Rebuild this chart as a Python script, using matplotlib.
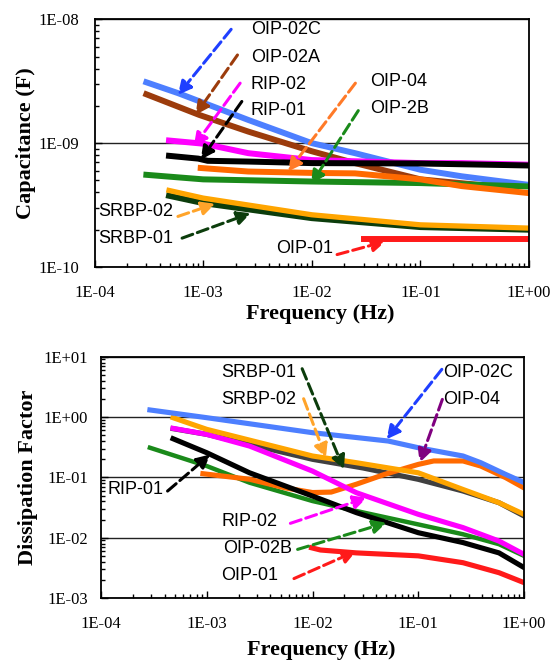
import numpy as np
import matplotlib.pyplot as plt
from matplotlib.ticker import LogLocator, FuncFormatter, NullFormatter

# ---- capacitance (F) vs frequency (Hz) ----
f_oip02c = [3e-4, 5.9e-4, 2.6e-3, 1e-2, 2.5e-2, 0.1, 0.24, 1.0]
c_oip02c = [3.1e-9, 2.53e-9, 1.54e-9, 1.0e-9, 8.3e-10, 6.1e-10, 5.4e-10, 4.6e-10]
f_oip02a = [3e-4, 9.2e-4, 2.6e-3, 1e-2, 2.5e-2, 0.1, 0.6]
c_oip02a = [2.48e-9, 1.69e-9, 1.24e-9, 8.6e-10, 6.9e-10, 5.1e-10, 4.4e-10]
f_rip02 = [4.85e-4, 1e-3, 2.6e-3, 1e-2, 0.1, 0.24, 1.0]
c_rip02 = [1.05e-9, 9.9e-10, 8.3e-10, 7.3e-10, 6.9e-10, 6.9e-10, 6.7e-10]
f_rip01 = [4.85e-4, 9e-4, 1.1e-3, 2.6e-3, 1e-2, 0.1, 1.0]
c_rip01 = [7.9e-10, 7.5e-10, 7.2e-10, 7.1e-10, 6.9e-10, 6.85e-10, 6.6e-10]
f_oip04 = [9.5e-4, 2.6e-3, 1e-2, 2.5e-2, 0.1, 0.24, 1.0]
c_oip04 = [6.3e-10, 5.9e-10, 5.75e-10, 5.7e-10, 5.1e-10, 4.5e-10, 3.95e-10]
f_oip2b = [3e-4, 1e-3, 1e-2, 0.1, 1.0]
c_oip2b = [5.55e-10, 5.1e-10, 4.9e-10, 4.76e-10, 4.47e-10]
f_srbp02 = [4.85e-4, 1e-3, 1e-2, 0.1, 1.0]
c_srbp02 = [4.15e-10, 3.6e-10, 2.64e-10, 2.19e-10, 2.06e-10]
f_srbp01 = [4.85e-4, 1e-3, 1e-2, 0.1, 1.0]
c_srbp01 = [3.76e-10, 3.28e-10, 2.48e-10, 2.1e-10, 2.0e-10]
f_oip01 = [0.0305, 1.0]
c_oip01 = [1.68e-10, 1.68e-10]

# ---- dissipation factor vs frequency ----
g_oip02c = [2.9e-4, 1e-3, 1e-2, 5.2e-2, 0.1, 0.265, 0.39, 0.67, 1.0]
d_oip02c = [1.31, 0.975, 0.55, 0.40, 0.31, 0.226, 0.175, 0.112, 0.082]
g_oip04 = [9.2e-4, 2.54e-3, 5.5e-3, 1e-2, 1.5e-2, 2.6e-2, 4.8e-2, 0.1, 0.14, 0.265, 0.39, 0.67, 1.0]
d_oip04 = [0.115, 0.093, 0.067, 0.056, 0.057, 0.077, 0.112, 0.164, 0.187, 0.187, 0.154, 0.099, 0.067]
g_srbp02 = [4.8e-4, 1e-3, 1e-2, 2.6e-2, 0.1, 0.265, 0.58, 1.0]
d_srbp02 = [0.975, 0.625, 0.226, 0.175, 0.119, 0.063, 0.038, 0.0244]
g_srbp01 = [4.8e-4, 1e-3, 2.54e-3, 1e-2, 3e-2, 0.1, 0.265, 0.58, 1.0]
d_srbp01 = [0.641, 0.516, 0.352, 0.199, 0.143, 0.0927, 0.0593, 0.038, 0.0229]
g_rip02 = [4.8e-4, 1e-3, 2.54e-3, 1e-2, 2.6e-2, 0.1, 0.265, 0.58, 1.0]
d_rip02 = [0.649, 0.516, 0.33, 0.127, 0.0557, 0.0244, 0.0147, 0.0088, 0.0053]
g_rip01 = [4.8e-4, 1e-3, 2.54e-3, 1e-2, 2.6e-2, 0.1, 0.265, 0.58, 1.0]
d_rip01 = [0.437, 0.256, 0.119, 0.049, 0.026, 0.0121, 0.0083, 0.0056, 0.0032]
g_oip02b = [2.9e-4, 1e-3, 2.54e-3, 1e-2, 2.6e-2, 0.1, 0.265, 0.58, 1.0]
d_oip02b = [0.31, 0.154, 0.0816, 0.0405, 0.0277, 0.0166, 0.0114, 0.0078, 0.005]
g_oip01 = [9.8e-3, 1.19e-2, 2.6e-2, 0.1, 0.265, 0.58, 1.0]
d_oip01 = [0.0068, 0.00625, 0.0056, 0.005, 0.00385, 0.00263, 0.0018]

xticks = [1e-4, 1e-3, 1e-2, 1e-1, 1e0]

# colours
BLUE, BLUE_A = '#4d7fff', '#1f3fff'
BROWN = '#9c3c0c'
MAG = '#ff00ff'
ORANGE, ORANGE_A = '#ff6a00', '#ff7a28'
GREEN = '#1a8a1a'
AMBER, AMBER_A = '#ffa500', '#ffa42a'
DKGREEN = '#0c3d0c'
GRAY = '#404040'
RED = '#ff1a1a'
PURPLE = '#800080'

plt.rcParams['font.family'] = 'Liberation Serif'
fig = plt.figure(figsize=(5.58, 6.63), dpi=100)
ax1 = fig.add_axes([0.1694, 0.5973, 0.7787, 0.3736])
ax2 = fig.add_axes([0.1810, 0.0980, 0.7581, 0.3640])

sans = 'Liberation Sans'


def arrow(ax, tail, head, col):
    ax.annotate('', xy=head, xytext=tail,
                arrowprops=dict(arrowstyle='-|>', color=col, lw=2.2, linestyle='--',
                                mutation_scale=20, shrinkA=0, shrinkB=0))


def style(ax, ylo, yhi, ylab, ypad, xpad):
    ax.set_xscale('log')
    ax.set_yscale('log')
    ax.set_xlim(1e-4, 1)
    ax.set_ylim(ylo, yhi)
    ax.set_xticks(xticks)
    fmt = FuncFormatter(lambda v, p: '1E%+03d' % int(round(np.log10(v))))
    ax.xaxis.set_major_formatter(fmt)
    ax.yaxis.set_major_locator(LogLocator(base=10, numticks=10))
    ax.yaxis.set_major_formatter(fmt)
    ax.xaxis.set_minor_locator(LogLocator(base=10, subs=np.arange(2, 10), numticks=20))
    ax.yaxis.set_minor_locator(LogLocator(base=10, subs=np.arange(2, 10), numticks=20))
    ax.xaxis.set_minor_formatter(NullFormatter())
    ax.yaxis.set_minor_formatter(NullFormatter())
    ax.tick_params(which='both', direction='in', top=False, right=False, labelsize=12)
    ax.tick_params(which='major', length=5, width=1)
    ax.tick_params(which='minor', length=3, width=1)
    ax.tick_params(axis='y', pad=ypad)
    ax.tick_params(axis='x', pad=xpad)
    ax.grid(True, which='major', axis='y', color='#222222', lw=1)
    for s in ax.spines.values():
        s.set_linewidth(1.3)
    ax.set_ylabel(ylab, fontsize=16, fontweight='bold')
    ax.set_xlabel('Frequency (Hz)', fontsize=16, fontweight='bold')


# ---------------- top: capacitance ----------------
lw1 = 4.3
ax1.plot(f_oip02a, c_oip02a, color=BROWN, lw=lw1)
ax1.plot(f_oip02c, c_oip02c, color=BLUE, lw=lw1)
ax1.plot(f_rip02, c_rip02, color=MAG, lw=lw1)
ax1.plot(f_rip01, c_rip01, color='black', lw=lw1)
ax1.plot(f_oip2b, c_oip2b, color=GREEN, lw=lw1)
ax1.plot(f_oip04, c_oip04, color=ORANGE, lw=lw1)
ax1.plot(f_srbp01, c_srbp01, color=DKGREEN, lw=lw1)
ax1.plot(f_srbp02, c_srbp02, color=AMBER, lw=lw1 - 0.5)
ax1.plot(f_oip01, c_oip01, color=RED, lw=lw1)
style(ax1, 1e-10, 1e-8, 'Capacitance (F)', 11, 13)
ax1.yaxis.set_label_coords(-0.135, 0.5)
ax1.xaxis.set_label_coords(0.52, -0.15)

arrow(ax1, (1.81e-3, 8.3e-9), (5.86e-4, 2.45e-9), BLUE_A)
arrow(ax1, (2.07e-3, 5.15e-9), (8.5e-4, 1.69e-9), BROWN)
arrow(ax1, (2.19e-3, 3.05e-9), (8.2e-4, 9.4e-10), MAG)
arrow(ax1, (2.27e-3, 2.17e-9), (9.5e-4, 7.35e-10), 'black')
arrow(ax1, (2.52e-2, 3.05e-9), (6.04e-3, 5.9e-10), ORANGE_A)
arrow(ax1, (2.68e-2, 1.83e-9), (9.85e-3, 4.67e-10), GREEN)
arrow(ax1, (5.86e-4, 2.56e-10), (1.29e-3, 3.24e-10), AMBER_A)
arrow(ax1, (6.4e-4, 1.71e-10), (2.74e-3, 2.72e-10), DKGREEN)
arrow(ax1, (1.71e-2, 1.26e-10), (4.79e-2, 1.61e-10), RED)

for txt, x, y in [('OIP-02C', 2.74e-3, 8.2e-9), ('OIP-02A', 2.74e-3, 4.95e-9),
                  ('RIP-02', 2.74e-3, 3.0e-9), ('RIP-01', 2.74e-3, 1.83e-9),
                  ('OIP-04', 3.41e-2, 3.14e-9), ('OIP-2B', 3.41e-2, 1.91e-9),
                  ('SRBP-02', 1.08e-4, 2.81e-10), ('SRBP-01', 1.08e-4, 1.71e-10),
                  ('OIP-01', 4.74e-3, 1.42e-10)]:
    ax1.text(x, y, txt, family=sans, fontsize=13, ha='left', va='center')

# ---------------- bottom: dissipation factor ----------------
lw2 = 3.7
ax2.plot(g_srbp01, d_srbp01, color=GRAY, lw=lw2)
ax2.plot(g_oip02b, d_oip02b, color=GREEN, lw=lw2 - 0.5)
ax2.plot(g_oip04, d_oip04, color=ORANGE, lw=lw2)
ax2.plot(g_rip02, d_rip02, color=MAG, lw=lw2)
ax2.plot(g_srbp02, d_srbp02, color=AMBER, lw=lw2)
ax2.plot(g_oip02c, d_oip02c, color=BLUE, lw=lw2)
ax2.plot(g_rip01, d_rip01, color='black', lw=lw2)
ax2.plot(g_oip01, d_oip01, color=RED, lw=lw2)
style(ax2, 1e-3, 10, 'Dissipation Factor', 9.5, 13)
ax2.yaxis.set_label_coords(-0.15, 0.5)
ax2.xaxis.set_label_coords(0.52, -0.175)

arrow(ax2, (7.98e-3, 6.32), (1.98e-2, 0.136), DKGREEN)
arrow(ax2, (8.24e-3, 2.01), (1.34e-2, 0.212), AMBER_A)
arrow(ax2, (0.167, 6.17), (5.01e-2, 0.427), BLUE_A)
arrow(ax2, (0.169, 1.96), (0.103, 0.175), PURPLE)
arrow(ax2, (4.26e-4, 0.0593), (1.08e-3, 0.24), 'black')
arrow(ax2, (6.18e-3, 0.0173), (3.27e-2, 0.046), MAG)
arrow(ax2, (7.23e-3, 0.0064), (5.01e-2, 0.0177), GREEN)
arrow(ax2, (6.68e-3, 0.0021), (2.59e-2, 0.0060), RED)

for txt, x, y, ha in [('SRBP-01', 6.95e-3, 5.57, 'right'), ('SRBP-02', 6.95e-3, 1.96, 'right'),
                      ('OIP-02C', 0.173, 5.57, 'left'), ('OIP-04', 0.173, 1.96, 'left'),
                      ('RIP-01', 3.94e-4, 0.0633, 'right'), ('RIP-02', 4.71e-3, 0.0189, 'right'),
                      ('OIP-02B', 6.43e-3, 0.00657, 'right'), ('OIP-01', 4.71e-3, 0.00238, 'right')]:
    ax2.text(x, y, txt, family=sans, fontsize=13, ha=ha, va='center')

fig.savefig('out.png', dpi=100)
